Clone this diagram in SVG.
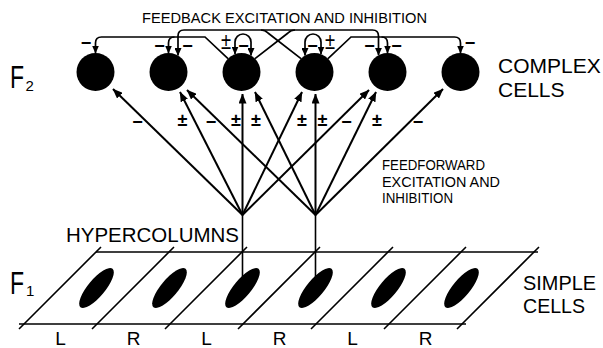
<svg xmlns="http://www.w3.org/2000/svg" width="603" height="348" viewBox="0 0 603 348">
<style>
  text { font-family: "Liberation Sans", Arial, sans-serif; fill: #000; }
  .big { font-size: 21px; }
  .cap { font-size: 14px; }
  .sg { font-size: 18px; font-weight: bold; text-anchor: middle; }
  .pm { font-size: 23px; text-anchor: middle; }
  .lr { font-size: 19px; text-anchor: middle; }
  .ff { stroke: #000; stroke-width: 2; fill: none; marker-end: url(#ah); }
  .fb { stroke: #000; stroke-width: 1.7; fill: none; }
  .fa { marker-end: url(#sh); }
  .lp { marker-start: url(#sh); marker-end: url(#sh); }
  .pl { stroke: #000; stroke-width: 1.6; fill: none; }
  .cell { fill: #000; }
</style>
<defs>
  <marker id="ah" markerUnits="userSpaceOnUse" markerWidth="10" markerHeight="8" refX="9.5" refY="4" orient="auto">
    <path d="M0,0 L10,4 L0,8 Z"/>
  </marker>
  <marker id="sh" markerUnits="userSpaceOnUse" markerWidth="8" markerHeight="7" refX="7.5" refY="3.5" orient="auto-start-reverse">
    <path d="M0,0 L8,3.5 L0,7 Z"/>
  </marker>
</defs>

<!-- layer labels -->
<g id="labels">
  <text transform="translate(10,88) scale(0.72,1)" font-size="32">F</text>
  <text x="25.5" y="91" font-size="15">2</text>
  <text transform="translate(10,294) scale(0.72,1)" font-size="32">F</text>
  <text x="26" y="296" font-size="15">1</text>
  <text class="big" x="498" y="73">COMPLEX</text>
  <text class="big" x="498" y="97">CELLS</text>
  <text class="big" x="523" y="290" textLength="73" lengthAdjust="spacingAndGlyphs">SIMPLE</text>
  <text class="big" x="523" y="313" textLength="62" lengthAdjust="spacingAndGlyphs">CELLS</text>
  <text class="cap" x="142" y="23" textLength="285" lengthAdjust="spacingAndGlyphs">FEEDBACK EXCITATION AND INHIBITION</text>
  <text class="cap" x="382" y="170" textLength="103" lengthAdjust="spacingAndGlyphs">FEEDFORWARD</text>
  <text class="cap" x="382" y="187" textLength="118" lengthAdjust="spacingAndGlyphs">EXCITATION AND</text>
  <text class="cap" x="382" y="203" textLength="71" lengthAdjust="spacingAndGlyphs">INHIBITION</text>
  <text x="66" y="242" font-size="20" textLength="173" lengthAdjust="spacingAndGlyphs">HYPERCOLUMNS</text>
  <text class="lr" x="60.5" y="345">L</text>
  <text class="lr" x="133.5" y="345">R</text>
  <text class="lr" x="206.5" y="345">L</text>
  <text class="lr" x="279.5" y="345">R</text>
  <text class="lr" x="352.5" y="345">L</text>
  <text class="lr" x="425.5" y="345">R</text>
</g>

<!-- F1 sheet of simple cells -->
<g id="sheet" class="pl">
  <path d="M96,252 L538,252 M19,324 L466,324"/>
  <path d="M19,329 L101,247 M92,329 L174,247 M165,329 L247,247 M238,329 L320,247 M311,329 L393,247 M384,329 L466,247 M457,329 L539,247"/>
</g>
<g id="s1"><ellipse class="cell" cx="96.5" cy="288" rx="25" ry="8.5" transform="rotate(-50 96.5 288)"/></g>
<g id="s2"><ellipse class="cell" cx="169.5" cy="288" rx="25" ry="8.5" transform="rotate(-50 169.5 288)"/></g>
<g id="s3"><ellipse class="cell" cx="242.5" cy="288" rx="25" ry="8.5" transform="rotate(-50 242.5 288)"/></g>
<g id="s4"><ellipse class="cell" cx="315.5" cy="288" rx="25" ry="8.5" transform="rotate(-50 315.5 288)"/></g>
<g id="s5"><ellipse class="cell" cx="388.5" cy="288" rx="25" ry="8.5" transform="rotate(-50 388.5 288)"/></g>
<g id="s6"><ellipse class="cell" cx="461.5" cy="288" rx="25" ry="8.5" transform="rotate(-50 461.5 288)"/></g>

<!-- F2 complex cells -->
<g id="c1"><circle cx="95.5" cy="72" r="19"/></g>
<g id="c2"><circle cx="168.5" cy="72" r="19"/></g>
<g id="c3"><circle cx="241.5" cy="72" r="19"/></g>
<g id="c4"><circle cx="314.5" cy="72" r="19"/></g>
<g id="c5"><circle cx="387.5" cy="72" r="19"/></g>
<g id="c6"><circle cx="460.5" cy="72" r="19"/></g>

<g id="connectors">
  <!-- hypercolumn stems -->
  <path class="pl" d="M242.5,215 L242.5,277 M315.5,215 L315.5,277"/>
  <!-- feedforward fans -->
  <path class="ff" d="M242.5,215 L113,89"/>
  <path class="ff" d="M242.5,215 L180,92"/>
  <path class="ff" d="M242.5,215 L242.5,94"/>
  <path class="ff" d="M242.5,215 L302,92"/>
  <path class="ff" d="M242.5,215 L369,90"/>
  <path class="ff" d="M315.5,215 L187,90"/>
  <path class="ff" d="M315.5,215 L255,92"/>
  <path class="ff" d="M315.5,215 L315.5,94"/>
  <path class="ff" d="M315.5,215 L376,92"/>
  <path class="ff" d="M315.5,215 L443,89"/>
  <!-- feedback -->
  <path class="fb fa" d="M228,58.6 L205,37 L101.5,37 Q95.5,37 95.5,43 L95.5,53"/>
  <path class="fb fa" d="M174.5,37 Q168.5,37 168.5,43 L168.5,53"/>
  <path class="fb fa" d="M328,58.6 L351,37 L454.5,37 Q460.5,37 460.5,43 L460.5,53"/>
  <path class="fb fa" d="M381.5,37 Q387.5,37 387.5,43 L387.5,53"/>
  <path class="fb fa" d="M301,58.6 L268,33 Q265,30 261,30 L184,30 Q178,30 178,36 L178,55.5"/>
  <path class="fb fa" d="M255,58.6 L288,33 Q291,30 295,30 L372.5,30 Q378.5,30 378.5,36 L378.5,55.3"/>
  <path class="fb" d="M261,30 L295,30"/>
  <path class="fb lp" d="M235,54 L235,42 A8,8 0 0 1 251,42 L251,55.5"/>
  <path class="fb lp" d="M305,55.5 L305,42 A8,8 0 0 1 321,42 L321,54"/>
</g>

<!-- connection signs -->
<g id="signs">
  <text class="sg" x="86" y="49">−</text>
  <text class="sg" x="159.5" y="51.8">−</text>
  <text class="sg" x="187.5" y="51.8">−</text>
  <text class="pm" transform="translate(226,48.5) scale(0.8,1)">±</text>
  <text class="sg" x="243.5" y="51.8">−</text>
  <text class="sg" x="312.5" y="51.8">−</text>
  <text class="pm" transform="translate(330,48.5) scale(0.8,1)">±</text>
  <text class="sg" x="369.5" y="51.8">−</text>
  <text class="sg" x="396.5" y="51.8">−</text>
  <text class="sg" x="470" y="49">−</text>

  <text class="sg" x="137.5" y="127.5">−</text>
  <text class="sg" x="182.5" y="126">±</text>
  <text class="sg" x="211" y="127.5">−</text>
  <text class="sg" x="236" y="126">±</text>
  <text class="sg" x="256" y="126">±</text>
  <text class="sg" x="302" y="126">±</text>
  <text class="sg" x="322.5" y="126">±</text>
  <text class="sg" x="346.5" y="127.5">−</text>
  <text class="sg" x="377" y="126">±</text>
  <text class="sg" x="418" y="127.5">−</text>
</g>
</svg>
